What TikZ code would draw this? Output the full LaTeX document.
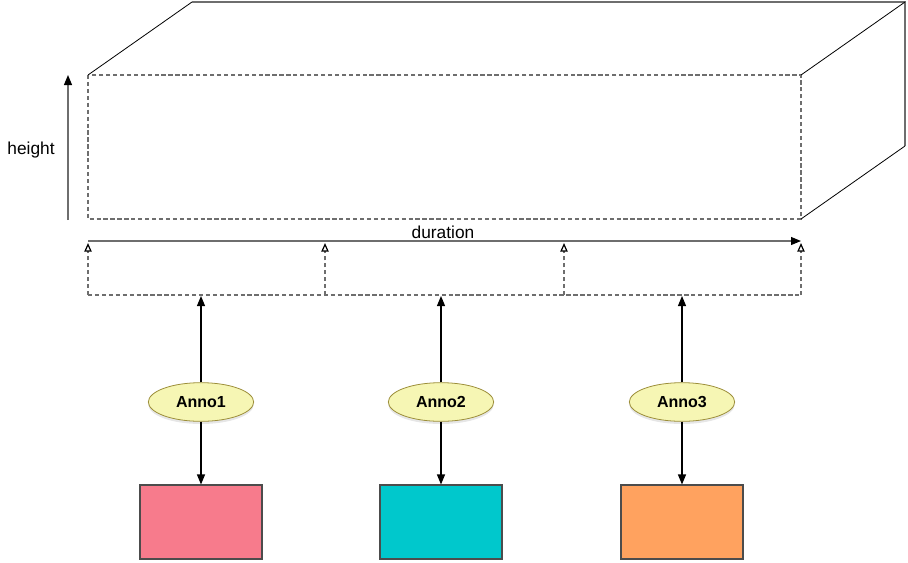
\documentclass[tikz,border=0pt]{standalone}
\usepackage{fontspec}
\setmainfont{Liberation Sans}
\usetikzlibrary{arrows.meta}
\usetikzlibrary{shapes}
\usetikzlibrary{shadows}

\definecolor{lineGray}{HTML}{6E6E6E}
\definecolor{annoFill}{HTML}{F6F6B4}
\definecolor{annoBorder}{HTML}{9C8E3A}
\definecolor{pinkFill}{HTML}{F77B8C}
\definecolor{tealFill}{HTML}{00C8CC}
\definecolor{orangeFill}{HTML}{FFA25F}

\begin{document}
\begin{tikzpicture}[x = 0.75pt, y = -0.75pt]
	\tikzstyle{edgeStyle} = [draw = black, line width = 0.6pt]
	\tikzstyle{grayStyle} = [draw = lineGray, line width = 1.1pt]
	\tikzstyle{dashStyle} = [draw = lineGray, line width = 0.9pt, dash pattern = on 3.2pt off 2pt]
	\tikzstyle{upStyle} = [dashStyle, -{Triangle[open, length = 6.5pt, width = 5.5pt, color = black, line width = 0.9pt]}]
	\tikzstyle{arrowStyle} = [draw = lineGray, line width = 0.8pt, -{Triangle[length = 7.5pt, width = 6pt, color = black]}]
	\tikzstyle{labelStyle} = [font = \fontsize{13}{15}\selectfont, inner sep = 1pt]
	\tikzstyle{annoStyle} = [ellipse, draw = annoBorder, fill = annoFill, line width = 0.6pt, minimum width = 79pt, minimum height = 29pt, inner sep = 0pt, font = \fontsize{12}{14}\selectfont\bfseries, drop shadow = {opacity = 0.2, shadow xshift = 0pt, shadow yshift = -2pt}]
	\tikzstyle{boxStyle} = [rectangle, draw = black!70, line width = 0.8pt, minimum width = 91.5pt, minimum height = 55.5pt, inner sep = 0pt]
	\useasboundingbox (0,0) rectangle (908,562);
	% the box
	\coordinate (f1) at (88,75);
	\coordinate (f2) at (801,75);
	\coordinate (f3) at (801,219);
	\coordinate (b1) at (192,2);
	\coordinate (b2) at (905,2);
	\coordinate (b3) at (905,146);
	\draw[dashStyle] (f1) rectangle (f3);
	\draw[edgeStyle] (f1) -- (b1);
	\draw[grayStyle] (b1) -- (b2) -- (b3);
	\draw[edgeStyle] (f2) -- (b2);
	\draw[edgeStyle] (f3) -- (b3);
	% height and duration
	\coordinate (h0) at (68,220);
	\coordinate (h1) at (68,75);
	\draw[arrowStyle] (h0) -- (h1);
	\node[labelStyle] (heightLabel) at (31,150) {height};
	\coordinate (d0) at (88,241);
	\coordinate (d1) at (801,241);
	\draw[arrowStyle] (d0) -- (d1);
	\node[labelStyle] (durationLabel) at (443,232) {duration};
	% segments
	\foreach \i/\x in {1/88, 2/325, 3/564, 4/801}{
		\coordinate (s\i) at (\x,295);
		\coordinate (t\i) at (\x,243);
		\draw[upStyle] (s\i) -- (t\i);
	}
	\draw[dashStyle] (s1) -- (s2) -- (s3) -- (s4);
	% annotations
	\foreach \i/\x/\c in {1/201/pinkFill, 2/441/tealFill, 3/682/orangeFill}{
		\node[annoStyle] (anno\i) at (\x,402) {Anno\i};
		\node[boxStyle, fill = \c] (box\i) at (\x,522) {};
		\coordinate (m\i) at (\x,296);
		\draw[arrowStyle, draw = black] (anno\i) -- (m\i);
		\draw[arrowStyle, draw = black] (anno\i) -- (box\i);
	}
\end{tikzpicture}
\end{document}
